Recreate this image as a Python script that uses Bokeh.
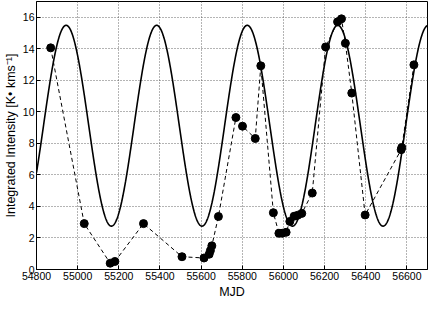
import numpy as np
from bokeh.plotting import figure
from bokeh.models import Range1d, FixedTicker
from bokeh.embed import file_html
from bokeh.resources import INLINE

# Observed integrated intensity (MJD, K km/s)
mjd = [54869, 55032, 55158, 55181, 55320, 55507, 55614, 55639, 55645, 55652,
       55684, 55769, 55801, 55863, 55890, 55951, 55978, 55994, 56013, 56031,
       56052, 56069, 56089, 56140, 56205, 56263, 56282, 56301, 56332, 56397,
       56572, 56575, 56634]
intensity = [14.06, 2.91, 0.40, 0.51, 2.91, 0.81, 0.73, 0.97, 1.2, 1.5,
             3.36, 9.64, 9.09, 8.31, 12.92, 3.60, 2.30, 2.30, 2.36, 3.05,
             3.38, 3.44, 3.56, 4.85, 14.12, 15.71, 15.9, 14.35, 11.19, 3.46,
             7.60, 7.74, 12.98]

# Sinusoidal model parameters
model_period = 440.0
model_mean = 9.12
model_amp = 6.37
model_peak = 54944.0

x_ticks = [54800, 55000, 55200, 55400, 55600, 55800, 56000, 56200, 56400, 56600]
y_ticks = [0, 2, 4, 6, 8, 10, 12, 14, 16]

t = np.linspace(54800, 56700, 1200)
model = model_mean + model_amp * np.cos(2 * np.pi * (t - model_peak) / model_period)

p = figure(width=429, height=301, output_backend="svg", toolbar_location=None,
           x_range=Range1d(54800, 56700), y_range=Range1d(0, 17),
           min_border_left=30, min_border_right=2, min_border_top=1, min_border_bottom=0)

p.line(t, model, line_color="black", line_width=1.6)
p.line(mjd, intensity, line_color="black", line_width=1, line_dash="4 3")
p.scatter(mjd, intensity, size=8, fill_color="black", line_color="black")

p.outline_line_color = "black"
p.outline_line_width = 1
p.outline_line_alpha = 1

for ax in (p.xaxis[0], p.yaxis[0]):
    ax.major_label_text_font = "Liberation Sans"
    ax.major_label_text_font_size = "10.5px"
    ax.major_label_text_color = "black"
    ax.axis_label_text_font = "Liberation Sans"
    ax.axis_label_text_font_size = "12.5px"
    ax.axis_label_text_font_style = "normal"
    ax.axis_label_text_color = "black"
    ax.axis_line_color = "black"
    ax.major_tick_line_color = "black"
    ax.major_tick_in = 4
    ax.major_tick_out = 0
    ax.minor_tick_line_color = None
    ax.major_label_standoff = 2
    ax.axis_label_standoff = 2

p.xaxis.ticker = FixedTicker(ticks=x_ticks)
p.yaxis.ticker = FixedTicker(ticks=y_ticks)
p.xaxis.axis_label = "MJD"
p.yaxis.axis_label = "Integrated Intensity [K\u2022 kms\u207b\u00b9]"

p.xgrid.ticker = FixedTicker(ticks=x_ticks)
p.ygrid.ticker = FixedTicker(ticks=y_ticks)
for g in (p.xgrid[0], p.ygrid[0]):
    g.grid_line_color = "#444444"
    g.grid_line_dash = "1 2"
    g.grid_line_width = 1
    g.grid_line_alpha = 0.8

open("out.html", "w").write(file_html(p, INLINE))
